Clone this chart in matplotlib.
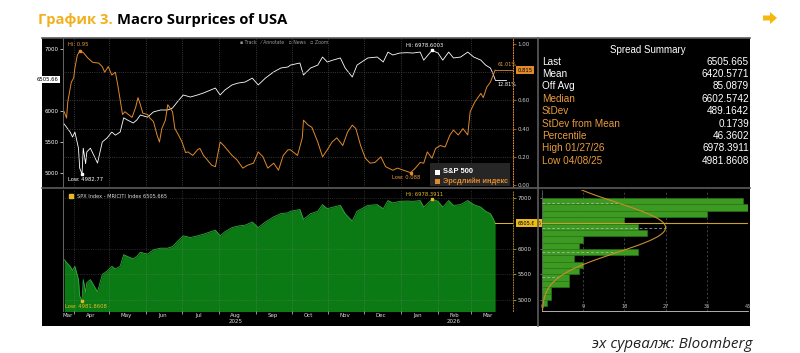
import numpy as np
import matplotlib.pyplot as plt
from matplotlib.patches import Rectangle, Polygon
from matplotlib.lines import Line2D

W, H = 800, 353
ORANGE = '#e08a2c'
ORANGE_TXT = '#e99b3c'
YELLOW = '#e8b923'

start = np.datetime64('2025-03-24')

# S&P 500 close (days since start, value)
spx_days = [0, 5, 7, 9, 12, 13, 15, 16, 18, 19, 22, 24, 28, 32, 36, 40, 43, 47, 50, 53,
            58, 61, 64, 70, 75, 81, 87, 91, 95, 100, 106, 112, 117, 123, 127, 131, 135, 141, 146, 152,
            158, 163, 169, 176, 182, 188, 190, 198, 201, 207, 213, 217, 221, 226, 232, 236, 242, 246, 255, 263,
            268, 272, 276, 282, 288, 293, 299, 302, 309, 314, 318, 323, 327, 333, 339, 344, 350, 354, 358, 360,
            362]
spx_vals = [5790, 5660, 5580, 5660, 5400, 5080, 4983, 5400, 5150, 5340, 5400, 5320, 5160, 5500, 5565, 5660, 5610, 5660, 5890, 5855,
            5806, 5855, 5935, 5900, 5985, 6016, 6016, 6048, 6145, 6258, 6225, 6258, 6290, 6338, 6370, 6258, 6338, 6420, 6450, 6467,
            6530, 6420, 6530, 6630, 6693, 6710, 6740, 6774, 6580, 6693, 6740, 6870, 6790, 6822, 6855, 6693, 6548, 6740, 6855, 6870,
            6790, 6950, 6903, 6935, 6940, 6935, 6950, 6820, 6978, 6935, 6820, 6950, 6855, 6870, 6950, 6870, 6820, 6740, 6693, 6612,
            6505.665]

# risk index (days since start, value)
risk_days = [0, 2, 3, 6, 8, 9, 11, 13, 16, 20, 24, 29, 32, 34, 37, 40, 43, 45, 49, 51,
             54, 57, 60, 62, 64, 66, 70, 72, 75, 78, 80, 82, 85, 87, 91, 93, 96, 99, 102, 104,
             108, 112, 114, 117, 120, 124, 127, 131, 134, 137, 141, 145, 150, 154, 159, 163, 167, 171, 176, 180,
             184, 188, 190, 196, 200, 201, 205, 208, 213, 217, 221, 225, 229, 234, 238, 242, 245, 249, 253, 257,
             261, 266, 270, 276, 280, 285, 291, 295, 299, 302, 305, 309, 312, 316, 320, 324, 327, 331, 335, 339,
             341, 345, 350, 352, 355, 358, 362]
risk_vals = [0.52, 0.475, 0.59, 0.73, 0.76, 0.83, 0.92, 0.95, 0.94, 0.90, 0.87, 0.865, 0.84, 0.80, 0.84, 0.78, 0.80, 0.71, 0.50, 0.52,
             0.50, 0.48, 0.55, 0.62, 0.57, 0.51, 0.50, 0.475, 0.45, 0.355, 0.305, 0.40, 0.46, 0.57, 0.52, 0.40, 0.355, 0.305, 0.23, 0.235,
             0.21, 0.25, 0.26, 0.21, 0.18, 0.14, 0.13, 0.305, 0.28, 0.25, 0.21, 0.18, 0.12, 0.14, 0.155, 0.235, 0.20, 0.12, 0.155, 0.105,
             0.21, 0.25, 0.25, 0.21, 0.335, 0.46, 0.425, 0.41, 0.305, 0.20, 0.25, 0.305, 0.335, 0.28, 0.375, 0.425, 0.40, 0.28, 0.19, 0.155,
             0.16, 0.20, 0.13, 0.105, 0.12, 0.105, 0.088, 0.12, 0.16, 0.155, 0.235, 0.19, 0.26, 0.28, 0.27, 0.355, 0.39, 0.355, 0.40, 0.355,
             0.52, 0.59, 0.65, 0.62, 0.695, 0.73, 0.815]

# histogram of S&P levels
bin_lo = [4875, 5000, 5125, 5250, 5375, 5500, 5625, 5750, 5875, 6000, 6125, 6250, 6375, 6500, 6625, 6750, 6875]
bin_w = 125
bin_counts = [1, 2, 2, 6, 6, 8, 9, 7, 21, 8, 9, 23, 21, 18, 36, 45, 44]
curve_peak = 27

summ_labels = ['Last', 'Mean', 'Off Avg', 'Median', 'StDev', 'StDev from Mean', 'Percentile', 'High 01/27/26', 'Low 04/08/25']
summ_values = ['6505.665', '6420.5771', '85.0879', '6602.5742', '489.1642', '0.1739', '46.3602', '6978.3911', '4981.8608']
summ_mean, summ_sd, last_val, last_risk = 6420.5771, 489.1642, 6505.665, 0.815

month_names = ['Mar', 'Apr', 'May', 'Jun', 'Jul', 'Aug', 'Sep', 'Oct', 'Nov', 'Dec', 'Jan', 'Feb', 'Mar']

spx_dates = start + np.array(spx_days)
risk_dates = start + np.array(risk_days)
month_starts = np.arange('2025-04', '2026-04', dtype='datetime64[M]').astype('datetime64[D]')
month_mids = np.concatenate([[np.datetime64('2025-03-27')], month_starts + 14])
x0, x1 = np.datetime64('2025-03-23'), np.datetime64('2026-04-05')


def box(l, t, r, b):
    return [l / W, 1 - b / H, (r - l) / W, (b - t) / H]


def fx(x):
    return x / W


def fy(y):
    return 1 - y / H


fig = plt.figure(figsize=(8, 3.53), dpi=100)
fig.patch.set_facecolor('white')

fig.add_artist(Rectangle((fx(42), fy(326)), 708 / W, 288 / H, transform=fig.transFigure,
                         facecolor='black', edgecolor='none', zorder=-5))
for xs, ys in [((42, 750), (38, 38)), ((42, 750), (188, 188)), ((538, 538), (38, 326))]:
    fig.add_artist(Line2D([fx(xs[0]), fx(xs[1])], [fy(ys[0]), fy(ys[1])], color='#5c5c5c', lw=1.2))

# title / source
t1 = fig.text(fx(38), fy(24), 'График 3. ', fontsize=10.6, fontweight='bold', color='#f2b01e',
              family='Open Sans', va='baseline')
fig.canvas.draw()
bb = t1.get_window_extent()
fig.text(bb.x1 / W, fy(24), 'Macro Surprices of USA', fontsize=10.6, fontweight='bold', color='black',
         family='Open Sans', va='baseline')
fig.text(fx(752), fy(344), 'эх сурвалж: Bloomberg', fontsize=11, style='italic', color='#222222',
         family='Open Sans', ha='right', va='center')
fig.add_artist(Polygon([(fx(763), fy(15.5)), (fx(770), fy(15.5)), (fx(770), fy(12)), (fx(777), fy(18)),
                        (fx(770), fy(24)), (fx(770), fy(20.5)), (fx(763), fy(20.5))],
                       closed=True, transform=fig.transFigure, facecolor='#f5b80f', edgecolor='none'))

# ---------- top chart ----------
ax1 = fig.add_axes(box(63, 38, 513, 187))
ax1.set_facecolor('black')
ax1.plot(spx_dates, spx_vals, color='white', lw=0.6, zorder=3)
ax1.set_xlim(x0, x1)
ax1.set_ylim(4774, 7177)
ax1.set_xticks(month_starts)
ax1.tick_params(axis='x', length=0, labelbottom=False)
ax1.grid(axis='x', color='#4a4a4a', ls=':', lw=0.6)
ax1.set_yticks([5000, 5500, 6000, 7000])
ax1.tick_params(axis='y', colors='white', labelsize=4, length=2, width=0.5, pad=1)
for s in ax1.spines.values():
    s.set_visible(False)
ax1.spines['left'].set_visible(True)
ax1.spines['left'].set_color('#777777')
ax1.spines['left'].set_linewidth(0.6)

ax1r = ax1.twinx()
ax1r.plot(risk_dates, risk_vals, color=ORANGE, lw=0.7, zorder=2)
ax1r.set_ylim(-0.014, 1.043)
ax1r.set_yticks([0, 0.2, 0.4, 0.6, 1.0])
ax1r.set_yticklabels(['0.00', '0.20', '0.40', '0.60', '1.00'])
ax1r.tick_params(axis='y', colors=ORANGE, labelcolor='#cccccc', labelsize=4, length=2, width=0.5, pad=1)
for s in ax1r.spines.values():
    s.set_visible(False)
ax1r.spines['right'].set_visible(True)
ax1r.spines['right'].set_color(ORANGE)
ax1r.spines['right'].set_linestyle(':')
ax1r.spines['right'].set_linewidth(0.7)
for v in [0.2, 0.4, 0.6, 0.8]:
    ax1r.axhline(v, color='#4a4a4a', ls=':', lw=0.6, zorder=0)

# markers and labels
i_hi = int(np.argmax(risk_vals)); i_lo = int(np.argmin(risk_vals))
j_hi = int(np.argmax(spx_vals)); j_lo = int(np.argmin(spx_vals))
ax1r.plot(risk_dates[i_hi], risk_vals[i_hi], 's', ms=2, color=ORANGE)
ax1r.annotate('Hi: 0.95', (risk_dates[i_hi], risk_vals[i_hi]), xytext=(-1, 3), textcoords='offset points',
              fontsize=3.8, color=ORANGE_TXT, ha='center', va='bottom')
ax1r.plot(risk_dates[i_lo], risk_vals[i_lo], 's', ms=2, color=ORANGE)
ax1r.annotate('Low: 0.088', (risk_dates[i_lo], risk_vals[i_lo]), xytext=(-3, -2), textcoords='offset points',
              fontsize=3.8, color=ORANGE_TXT, ha='center', va='top')
ax1.plot(spx_dates[j_hi], spx_vals[j_hi], 's', ms=2, color='white')
ax1.annotate('Hi: 6978.6003', (spx_dates[j_hi], spx_vals[j_hi]), xytext=(-5, 1.5), textcoords='offset points',
             fontsize=3.8, color='white', ha='center', va='bottom')
ax1.plot(spx_dates[j_lo], spx_vals[j_lo], 's', ms=2, color='white')
ax1.annotate('Low: 4982.77', (spx_dates[j_lo], spx_vals[j_lo]), xytext=(-10, -2), textcoords='offset points',
             fontsize=3.8, color='white', ha='left', va='top')

# last value boxes
ax1.annotate('6505.66', (0, last_val), xycoords=('axes fraction', 'data'), xytext=(-3, 0),
             textcoords='offset points', ha='right', va='center', fontsize=3.8, color='black',
             bbox=dict(boxstyle='square,pad=0.2', fc='white', ec='none'), annotation_clip=False)
ax1r.annotate('0.815', (1, last_risk), xycoords=('axes fraction', 'data'), xytext=(3, 0),
              textcoords='offset points', ha='left', va='center', fontsize=3.8, color='black',
              bbox=dict(boxstyle='square,pad=0.25', fc=ORANGE, ec='none'), annotation_clip=False)
ax1r.plot([risk_dates[-1], x1], [last_risk, last_risk], color=ORANGE, lw=0.6)
ax1.plot([spx_dates[-1], spx_dates[-1] + 9], [last_val, last_val], color='white', lw=0.6)
ax1r.annotate('61.01%', (spx_dates[-1] + 2, last_risk), xytext=(0, 2), textcoords='offset points',
              fontsize=3.6, color=ORANGE_TXT, ha='left', va='bottom')
ax1.annotate('12.81%', (spx_dates[-1] + 2, last_val), xytext=(0, -2), textcoords='offset points',
             fontsize=3.6, color='white', ha='left', va='top')

# top strip and legend
fig.text(fx(240), fy(42), '▪ Track   ⁄ Annotate   ▫ News   ▫ Zoom', fontsize=3.3, color='#9a9a9a', va='center')
fig.add_artist(Rectangle((fx(430), fy(186)), 80 / W, 23 / H, transform=fig.transFigure,
                         facecolor='#262626', edgecolor='none', zorder=5))
fig.add_artist(Rectangle((fx(435), fy(175)), 5 / W, 5 / H, transform=fig.transFigure,
                         facecolor='white', edgecolor='none', zorder=6))
fig.add_artist(Rectangle((fx(435), fy(184)), 5 / W, 5 / H, transform=fig.transFigure,
                         facecolor=ORANGE, edgecolor='none', zorder=6))
fig.text(fx(443), fy(172), 'S&P 500', fontsize=5.4, fontweight='bold', color='white', va='center',
         family='Liberation Sans', zorder=7)
fig.text(fx(443), fy(181.5), 'Эрсдлийн индекс', fontsize=5.4, fontweight='bold', color=ORANGE, va='center',
         family='Liberation Sans', zorder=7)

# ---------- summary ----------
fig.text(fx(648), fy(50), 'Spread Summary', fontsize=7, color='white', ha='center', va='center',
         family='Liberation Sans')
for k, (lab, val) in enumerate(zip(summ_labels, summ_values)):
    c = 'white' if k < 3 else ORANGE_TXT
    yy = fy(61.7 + k * 12.37)
    fig.text(fx(542), yy, lab, fontsize=7.2, color=c, va='center', family='Liberation Sans')
    fig.text(fx(749), yy, val, fontsize=7.2, color='white', va='center', ha='right', family='Liberation Sans')

# ---------- bottom chart ----------
ax2 = fig.add_axes(box(63, 190, 513, 311))
ax2.set_facecolor('black')
ax2.fill_between(spx_dates, spx_vals, 4700, color='#0b7a14', lw=0, zorder=1)
ax2.plot(spx_dates, spx_vals, color='#36a83e', lw=0.6, zorder=2)
ax2.set_xlim(x0, x1)
ax2.set_ylim(4784, 7157)
ax2.set_xticks(month_starts)
ax2.set_xticks(month_mids, minor=True)
ax2.set_xticklabels([])
ax2.set_xticklabels(month_names, minor=True)
ax2.tick_params(axis='x', which='major', colors='#cccccc', length=2, width=0.5)
ax2.tick_params(axis='x', which='minor', length=0, labelsize=4, labelcolor='#dddddd', pad=1.5)
ax2.grid(axis='x', which='major', color='#8a8a8a', ls=':', lw=0.5, alpha=0.6, zorder=3)
ax2.yaxis.tick_right()
ax2.set_yticks([5000, 5500, 6000, 7000])
ax2.tick_params(axis='y', colors=YELLOW, labelcolor='#dddddd', labelsize=4, length=2, width=0.5, pad=1)
ax2.grid(axis='y', color='#8a8a8a', ls=':', lw=0.5, alpha=0.5, zorder=3)
for s in ax2.spines.values():
    s.set_visible(False)
ax2.spines['left'].set_visible(True)
ax2.spines['left'].set_color('#777777')
ax2.spines['left'].set_linewidth(0.6)
ax2.spines['right'].set_visible(True)
ax2.spines['right'].set_color('#9c7c1c')
ax2.spines['right'].set_linestyle(':')
ax2.spines['right'].set_linewidth(0.7)
for yr, d in [('2025', '2025-08-15'), ('2026', '2026-02-14')]:
    ax2.annotate(yr, (np.datetime64(d), 0), xycoords=('data', 'axes fraction'), xytext=(0, -7.5),
                 textcoords='offset points', ha='center', va='center', fontsize=4, color='#dddddd',
                 annotation_clip=False)
ax2.plot([spx_dates[-1], x1], [last_val, last_val], color=YELLOW, lw=0.7, zorder=4)
ax2.annotate('6505.665', (1, last_val), xycoords=('axes fraction', 'data'), xytext=(3, 0),
             textcoords='offset points', ha='left', va='center', fontsize=3.6, color='black',
             bbox=dict(boxstyle='square,pad=0.25', fc=YELLOW, ec='none'), annotation_clip=False)
ax2.plot(spx_dates[j_hi], spx_vals[j_hi], 's', ms=2, color=YELLOW, zorder=5)
ax2.annotate('Hi: 6978.3911', (spx_dates[j_hi], spx_vals[j_hi]), xytext=(-5, 1.5), textcoords='offset points',
             fontsize=3.8, color=YELLOW, ha='center', va='bottom')
ax2.plot(spx_dates[j_lo], spx_vals[j_lo], 's', ms=2, color=YELLOW, zorder=5)
ax2.annotate('Low: 4981.8608', (spx_dates[j_lo], spx_vals[j_lo]), xytext=(-12, -2), textcoords='offset points',
             fontsize=3.8, color=YELLOW, ha='left', va='top')
ax2.annotate('SPX Index - MRICITI Index 6505.665', (0, 1), xycoords='axes fraction', xytext=(10, -5),
             textcoords='offset points', fontsize=3.6, color='#dddddd', ha='left', va='center')
ax2.plot([0.017], [0.95], 's', ms=3, color=YELLOW, transform=ax2.transAxes)

# ---------- histogram ----------
ax3 = fig.add_axes(box(542, 190, 748, 311))
ax3.set_facecolor('black')
centers = np.array(bin_lo) + bin_w / 2
ax3.barh(centers, bin_counts, height=bin_w, color='#3c9a22', edgecolor='#2c7a16', lw=0.4, zorder=2)
ax3.set_xlim(0, 45)
ax3.set_ylim(4784, 7157)
ys = np.linspace(4784, 7157, 300)


def curve(y):
    return curve_peak * np.exp(-0.5 * ((y - summ_mean) / summ_sd) ** 2)


ax3.plot(curve(ys), ys, color='#c98d2a', lw=0.8, zorder=4)
for k in [1, 0, -1, -2]:
    yv = summ_mean + k * summ_sd
    ax3.plot([0, curve(yv)], [yv, yv], color='#bdbdbd', ls=(0, (4, 3)), lw=0.5, zorder=3)
ax3.axhline(last_val, color='#c9a227', lw=0.8, zorder=4)
ax3.plot([-1.3], [last_val], 'o', ms=3.5, color='#f2c200', clip_on=False, zorder=6)
ax3.set_xticks([0, 9, 18, 27, 36, 45])
ax3.grid(axis='x', color='#5a5a5a', ls=(0, (3, 3)), lw=0.5, zorder=1)
ax3.tick_params(axis='x', length=0, labelsize=3.6, labelcolor='#bbbbbb', pad=-5)
ax3.set_yticks([5000, 5500, 6000, 7000])
ax3.tick_params(axis='y', length=1.5, width=0.5, colors='#999999', labelleft=False)
for s in ax3.spines.values():
    s.set_visible(False)
ax3.spines['bottom'].set_visible(True)
ax3.spines['bottom'].set_color('#cccccc')
ax3.spines['bottom'].set_linewidth(0.6)
ax3.spines['left'].set_visible(True)
ax3.spines['left'].set_color('#666666')
ax3.spines['left'].set_linewidth(0.5)

fig.savefig('out.png', dpi=100, facecolor='white')
